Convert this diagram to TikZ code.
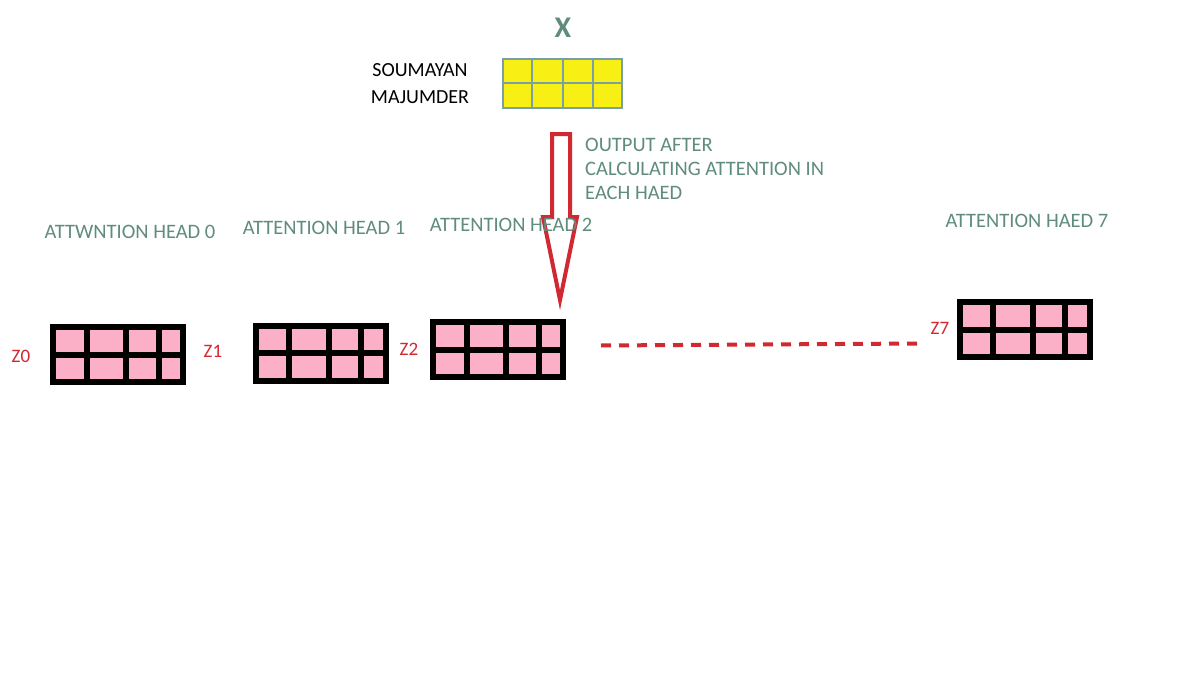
\documentclass[tikz,border=0pt]{standalone}
\usepackage{fontspec}
\setmainfont{Carlito}
\usetikzlibrary{calc}
\definecolor{headgreen}{RGB}{95,140,125}
\definecolor{zred}{RGB}{210,40,50}
\definecolor{cellpink}{RGB}{252,176,200}
\definecolor{cellyellow}{RGB}{248,240,20}
\definecolor{cellblue}{RGB}{120,160,165}
\def\headgrid(#1){\foreach \f in {0.27,0.56,0.80} {\draw[line width=6pt] ($(#1.north west)!\f!(#1.north east)$) -- ($(#1.south west)!\f!(#1.south east)$);} \draw[line width=6pt] (#1.west) -- (#1.east);}

\begin{document}
\begin{tikzpicture}[x=1pt, y=-1pt,
	headbox/.style={draw=black, line width=6pt, fill=cellpink, minimum width=130pt, minimum height=55pt, inner sep=0pt},
	headlabel/.style={text=headgreen, font=\fontsize{20.5}{24}\selectfont},
	zlabel/.style={text=zred, font=\fontsize{19}{22}\selectfont}]
		%%%%% START %%%%%
		\useasboundingbox[fill=white] (0, 0) rectangle (1192, 677);
		
		% input matrix
		\node[font=\fontsize{30}{32}\selectfont\bfseries, text=headgreen] (xlabel) at (563, 28) {X};
		\node[draw=cellblue, line width=2pt, fill=cellyellow, minimum width=119pt, minimum height=49pt, inner sep=0pt] (input) at (562.5, 83.5) {};
		\foreach \f in {0.25,0.5,0.75} {\draw[cellblue, line width=2pt] ($(input.north west)!\f!(input.north east)$) -- ($(input.south west)!\f!(input.south east)$);}
		\draw[cellblue, line width=2pt] (input.west) -- (input.east);
		\node[font=\fontsize{20}{24}\selectfont, align=center] (name) at (420, 84) {SOUMAYAN\\[3pt]MAJUMDER};
		
		% hollow arrow
		\coordinate (arrowtop) at (561, 134);
		\draw[zred, line width=4pt, line join=miter] (arrowtop) ++(-9, 0) -- ++(18, 0) -- ++(0, 83) -- ++(7, 0) -- ++(-17, 83) -- ++(-17, -83) -- ++(9, 0) -- cycle;
		\node[text=headgreen, font=\fontsize{20.5}{24}\selectfont, align=left, anchor=north west, inner sep=0pt] (note) at (585, 138) {OUTPUT AFTER\\CALCULATING ATTENTION IN\\EACH HAED};
		
		% attention heads
		\node[headlabel] (head0) at (130, 232) {ATTWNTION HEAD 0};
		\node[headlabel] (head1) at (324, 228) {ATTENTION HEAD 1};
		\node[headlabel] (head2) at (511, 225) {ATTENTION HEAD 2};
		\node[headlabel] (head7) at (1027, 221) {ATTENTION HAED 7};
		
		\node[headbox] (grid0) at (118, 354.5) {};
		\node[headbox] (grid1) at (320.5, 353) {};
		\node[headbox] (grid2) at (498, 349.5) {};
		\node[headbox] (grid7) at (1024.5, 329.5) {};
		\headgrid(grid0)
		\headgrid(grid1)
		\headgrid(grid2)
		\headgrid(grid7)
		
		\node[zlabel] (z0) at (21, 356) {Z0};
		\node[zlabel] (z1) at (213, 351) {Z1};
		\node[zlabel] (z2) at (409, 349) {Z2};
		\node[zlabel] (z7) at (940, 328) {Z7};
		
		% dots between heads
		\coordinate (dashA) at ($(grid2.east)+(35, -4)$);
		\coordinate (dashB) at ($(grid7.west)+(-37, 14)$);
		\draw[zred, line width=4pt, dash pattern=on 10pt off 8pt] (dashA) -- (dashB);
		
		%%%%% END %%%%%
	\end{tikzpicture}
\end{document}
